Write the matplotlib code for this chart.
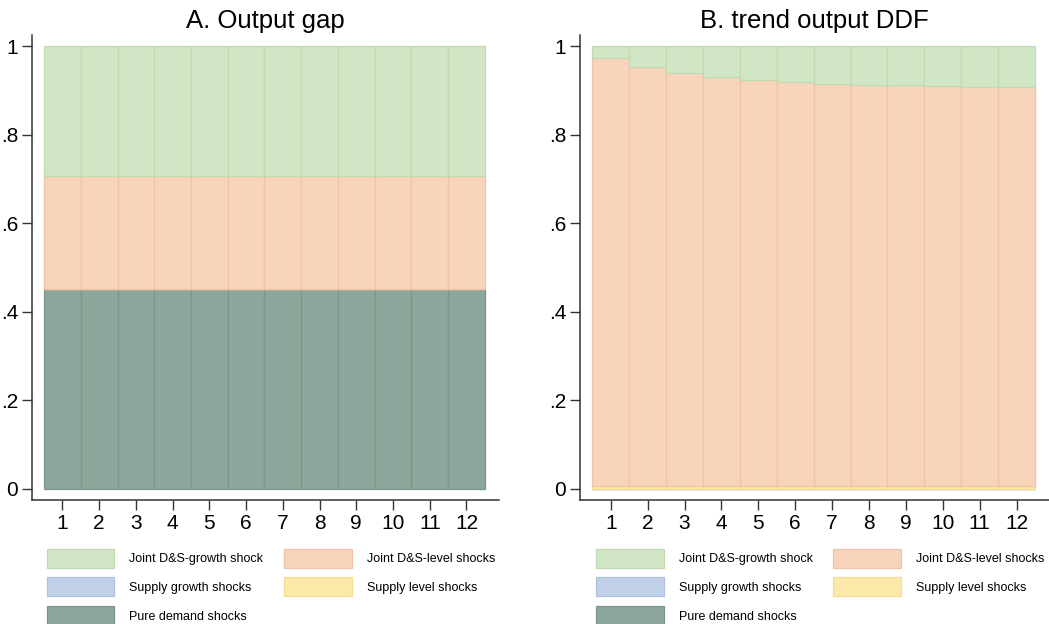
import numpy as np
import matplotlib
matplotlib.use('Agg')
import matplotlib.pyplot as plt
from matplotlib.patches import Patch

plt.rcParams['font.family'] = ['Liberation Sans', 'DejaVu Sans']

horizons = np.arange(1, 13)

# panel A: output gap shares (constant over horizon)
a_demand = [0.452] * 12
a_supply_growth = [0.0] * 12
a_supply_level = [0.0] * 12
a_level = [0.254] * 12
a_growth = [0.294] * 12

# panel B: trend output shares
b_demand = [0.0] * 12
b_supply_growth = [0.0] * 12
b_supply_level = [0.007] * 12
b_level = [0.965, 0.946, 0.932, 0.924, 0.917, 0.912, 0.907, 0.906, 0.904, 0.902, 0.901, 0.900]
b_growth = [0.028, 0.047, 0.061, 0.069, 0.076, 0.081, 0.086, 0.087, 0.089, 0.091, 0.092, 0.093]

titles = ["A. Output gap", "B. trend output DDF"]
labels = ["Pure demand shocks", "Supply growth shocks", "Supply level shocks",
          "Joint D&S-level shocks", "Joint D&S-growth shock"]
colors = ["#8ba69a", "#c2d1ea", "#fde9a9", "#f8d4bb", "#d1e6c5"]
edges = ["#7a9789", "#b0c0de", "#f5dc90", "#f0c4a6", "#c0dab2"]

fig = plt.figure(figsize=(10.49, 6.24), dpi=100)
axes = [fig.add_axes([0.0305, 0.199, 0.445, 0.745]),
        fig.add_axes([0.553, 0.199, 0.447, 0.745])]

panels = [[a_demand, a_supply_growth, a_supply_level, a_level, a_growth],
          [b_demand, b_supply_growth, b_supply_level, b_level, b_growth]]
leg_x = [0.032, 0.034]

for ax, series, title, lx in zip(axes, panels, titles, leg_x):
    bottom = np.zeros(12)
    for vals, c, e in zip(series, colors, edges):
        vals = np.array(vals)
        ax.bar(horizons, vals, width=1.0, bottom=bottom, color=c,
               edgecolor=e, linewidth=0.9)
        bottom += vals
    ax.set_xlim(0.17, 12.88)
    ax.set_ylim(-0.025, 1.025)
    ax.set_xticks(horizons)
    ax.set_yticks([0, 0.2, 0.4, 0.6, 0.8, 1.0])
    ax.set_yticklabels(["0", ".2", ".4", ".6", ".8", "1"])
    ax.tick_params(labelsize=15, length=7, width=1, color="#333333", pad=3)
    for s in ["top", "right"]:
        ax.spines[s].set_visible(False)
    for s in ["left", "bottom"]:
        ax.spines[s].set_color("#333333")
        ax.spines[s].set_linewidth(1.1)
    ax.set_title(title, fontsize=18.5, pad=5)

    order = [4, 1, 0, 3, 2]
    handles = [Patch(facecolor=colors[i], edgecolor=edges[i], linewidth=0.9) for i in order]
    ax.legend(handles, [labels[i] for i in order], ncol=2, frameon=False,
              fontsize=9, handlelength=5.4, handleheight=1.96,
              handletextpad=1.2, columnspacing=1.65, labelspacing=0.78,
              loc="upper left", bbox_to_anchor=(lx, -0.105),
              borderaxespad=0, borderpad=0)

fig.savefig("out.png", dpi=100)
